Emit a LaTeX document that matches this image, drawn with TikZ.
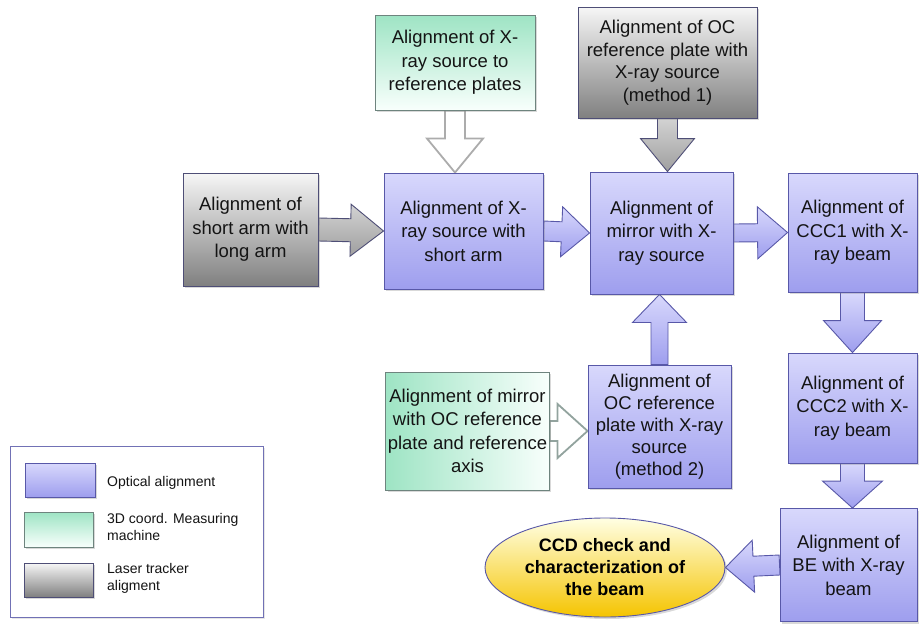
\documentclass[tikz,border=0pt]{standalone}
\usepackage{fontspec}
\setmainfont{Liberation Sans}
\usetikzlibrary{calc,shadows,shapes.geometric}
\pgfdeclarelayer{bg}
\pgfsetlayers{bg,main}
\definecolor{bluetop}{RGB}{216,216,252}
\definecolor{bluebot}{RGB}{158,158,238}
\definecolor{blueedge}{RGB}{88,88,168}
\definecolor{graytop}{RGB}{246,246,246}
\definecolor{graybot}{RGB}{128,128,128}
\definecolor{grayedge}{RGB}{78,78,118}
\definecolor{greentop}{RGB}{158,228,196}
\definecolor{greenbot}{RGB}{248,255,252}
\definecolor{greenedge}{RGB}{110,132,126}
\definecolor{goldtop}{RGB}{255,255,228}
\definecolor{goldbot}{RGB}{245,196,0}
\definecolor{txt}{RGB}{20,20,20}
\tikzset{
  box/.style={rectangle, align=center, inner sep=2pt, text=txt, line width=0.9pt,
    font=\fontsize{18.5}{23.5}\selectfont,
    drop shadow={opacity=0.3, shadow xshift=2pt, shadow yshift=-2pt}},
  optbox/.style={box, draw=blueedge, top color=bluetop, bottom color=bluebot},
  laserbox/.style={box, draw=grayedge, top color=graytop, bottom color=graybot},
  cmmbox/.style={box, draw=greenedge, top color=greentop, bottom color=greenbot},
  cmmboxh/.style={box, draw=greenedge, left color=greentop, right color=greenbot},
  arrblue/.style={draw=blueedge, line width=0.9pt, top color=bluetop, bottom color=bluebot},
  arrgray/.style={draw=grayedge, line width=0.9pt, top color=gray!35, bottom color=gray!75},
  arrwhite/.style={draw=gray!65, line width=1.8pt, fill=white},
  arrwhitegreen/.style={draw=greenedge!75, line width=1.8pt, fill=white},
  legtext/.style={anchor=west, inner sep=0pt, align=left, text=txt, font=\fontsize{14}{17}\selectfont}
}
% style, start, tip, shaft half-width, head half-width, head length
\newcommand{\blockarr}[6]{%
  \coordinate (neck) at ($(#3)!#6!(#2)$);
  \path[#1] ($(#2)!#4!90:(#3)$) -- ($(neck)!#4!90:(#3)$) -- ($(neck)!#5!90:(#3)$)
    -- (#3) -- ($(neck)!#5!-90:(#3)$) -- ($(neck)!#4!-90:(#3)$)
    -- ($(#2)!#4!-90:(#3)$) -- cycle;}
\begin{document}
\begin{tikzpicture}[x=1pt,y=-1pt]
\useasboundingbox (0,0) rectangle (919,629);

% main boxes
\node[laserbox, minimum width=135pt, minimum height=113pt] (long) at (250.5,229.5)
  {Alignment of\\short arm with\\long arm};
\node[optbox, minimum width=159pt, minimum height=116pt] (xsrc) at (463.5,231)
  {Alignment of X-\\ray source with\\short arm};
\node[cmmbox, minimum width=160pt, minimum height=95pt] (top) at (455,62.5)
  {Alignment of X-\\ray source to\\reference plates};
\node[laserbox, minimum width=179pt, minimum height=111pt, font=\fontsize{18.5}{22.5}\selectfont] (oc1) at (667.5,62.5)
  {Alignment of OC\\reference plate with\\X-ray source\\(method 1)};
\node[optbox, minimum width=143pt, minimum height=122pt] (mirror) at (661.5,233)
  {Alignment of\\mirror with X-\\ray source};
\node[optbox, minimum width=129pt, minimum height=119pt] (ccc1) at (852.5,232.5)
  {Alignment of\\CCC1 with X-\\ray beam};
\node[optbox, minimum width=129pt, minimum height=110pt] (ccc2) at (852.5,408)
  {Alignment of\\CCC2 with X-\\ray beam};
\node[optbox, minimum width=137pt, minimum height=113pt] (be) at (848.5,565)
  {Alignment of\\BE with X-ray\\beam};
\node[optbox, minimum width=143pt, minimum height=123pt, font=\fontsize{18.5}{22}\selectfont] (oc2) at (659.5,426.5)
  {Alignment of\\OC reference\\plate with X-ray\\source\\(method 2)};
\node[cmmboxh, minimum width=141pt, minimum height=118pt] (moc) at (467.5,431)
  {Alignment of mirror\\with OC reference\\plate and reference\\axis};
\node[ellipse, draw=blueedge, line width=0.9pt, top color=goldtop, bottom color=goldbot,
  minimum width=240pt, minimum height=99pt, inner sep=0pt, align=center, text=black,
  font=\bfseries\fontsize{18}{22}\selectfont,
  drop shadow={opacity=0.3, shadow xshift=2pt, shadow yshift=-2pt}] (ell) at (605,567.5)
  {CCD check and\\characterization of\\the beam};

% legend
\node[draw=blueedge!85, fill=white, line width=0.7pt, minimum width=253pt, minimum height=171pt,
  drop shadow={opacity=0.2, shadow xshift=1.5pt, shadow yshift=-1.5pt}] (legend) at (136.5,531.5) {};
\node[optbox, minimum width=70pt, minimum height=34pt] (sw1) at (60,480) {};
\node[cmmbox, minimum width=69pt, minimum height=35pt] (sw2) at (58.5,529.5) {};
\node[laserbox, minimum width=69pt, minimum height=34pt] (sw3) at (58.5,580) {};
\node[legtext] (lt1) at (107,483) {Optical alignment};
\node[legtext] (lt2) at (107,527) {3D coord. Measuring\\machine};
\node[legtext] (lt3) at (107,578) {Laser tracker\\aligment};

% connectors (block arrows) behind the boxes
\coordinate (t2) at (top.south |- xsrc.north);
\coordinate (t3) at (oc1.south |- mirror.north);
\coordinate (t4) at (oc2.north |- mirror.south);
\coordinate (t5) at (ccc1.south |- ccc2.north);
\coordinate (t6) at (ccc2.south |- be.north);
\coordinate (t7) at (moc.east -| oc2.west);
\begin{pgfonlayer}{bg}
\blockarr{arrgray}{long.east}{xsrc.west}{11.5pt}{26pt}{33pt}
\blockarr{arrblue}{xsrc.east}{mirror.west}{10pt}{25pt}{28pt}
\blockarr{arrblue}{mirror.east}{ccc1.west}{9pt}{26pt}{30pt}
\blockarr{arrwhite}{top.south}{t2}{10pt}{28pt}{34pt}
\blockarr{arrgray}{oc1.south}{t3}{10pt}{27pt}{33pt}
\blockarr{arrblue}{oc2.north}{t4}{8.5pt}{27pt}{28pt}
\blockarr{arrblue}{ccc1.south}{t5}{12pt}{29pt}{32pt}
\blockarr{arrblue}{ccc2.south}{t6}{12pt}{30pt}{27pt}
\blockarr{arrblue}{be.west}{ell.east}{10pt}{26pt}{28pt}
\blockarr{arrwhitegreen}{moc.east}{t7}{10pt}{27pt}{30pt}
\end{pgfonlayer}
\end{tikzpicture}
\end{document}
